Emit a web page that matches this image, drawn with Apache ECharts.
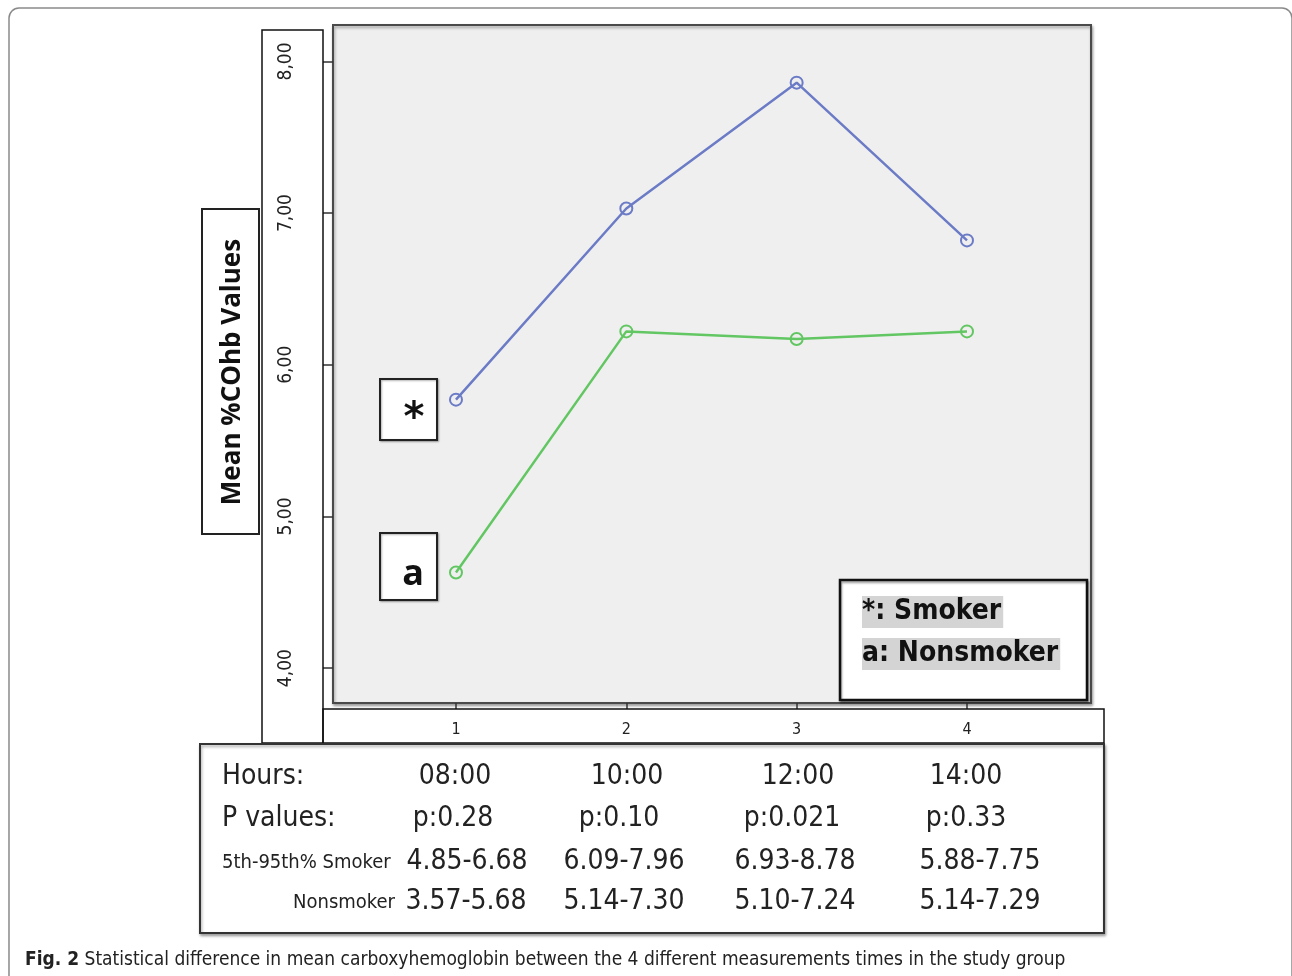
<!DOCTYPE html>
<html><head><meta charset="utf-8">
<script src="https://cdn.jsdelivr.net/npm/echarts@6/dist/echarts.min.js"></script>
<style>html,body{margin:0;padding:0;background:#fff}#c{width:1292px;height:976px}</style>
</head><body><div id="c"></div>
<script>
// ---- data ----
const xValues = [1, 2, 3, 4];
const xTickLabels = ['1', '2', '3', '4'];
const smoker = [5.77, 7.03, 7.86, 6.82];
const nonsmoker = [4.63, 6.22, 6.17, 6.22];
const yTicks = [4, 5, 6, 7, 8];
const yTickLabels = ['4,00', '5,00', '6,00', '7,00', '8,00'];
const rowLabels = ['Hours:', 'P values:', '5th-95th% Smoker', 'Nonsmoker'];
const hours = ['08:00', '10:00', '12:00', '14:00'];
const pValues = ['p:0.28', 'p:0.10', 'p:0.021', 'p:0.33'];
const smokerRange = ['4.85-6.68', '6.09-7.96', '6.93-8.78', '5.88-7.75'];
const nonsmokerRange = ['3.57-5.68', '5.14-7.30', '5.10-7.24', '5.14-7.29'];
const yTitle = 'Mean %COhb Values';
const legendItems = ['*: Smoker', 'a: Nonsmoker'];
const captionBold = 'Fig. 2';
const captionText = ' Statistical difference in mean carboxyhemoglobin between the 4 different measurements times in the study group';

const NARROW = "'Liberation Sans Narrow','DejaVu Sans Condensed','Open Sans',sans-serif";
const chart = echarts.init(document.getElementById('c'), null, {renderer: 'canvas'});

const blue = '#6b7bc6';
const green = '#62c662';

chart.setOption({
  animation: false,
  grid: {left: 333, top: 25, width: 758, height: 678, show: true,
    backgroundColor: '#efefef', borderColor: '#4a4a4a', borderWidth: 2,
    shadowColor: 'rgba(0,0,0,0.35)', shadowBlur: 3, shadowOffsetX: 1, shadowOffsetY: 2},
  xAxis: {type: 'value', min: 0.278, max: 4.728,
    axisLine: {show: false}, splitLine: {show: false},
    axisTick: {show: true, length: 6, customValues: xValues, lineStyle: {color: '#333', width: 1.5}},
    axisLabel: {customValues: xValues, margin: 19, fontSize: 16, color: '#222', fontFamily: NARROW,
      formatter: v => xTickLabels[xValues.indexOf(v)]}},
  yAxis: {type: 'value', min: 3.77, max: 8.24,
    axisLine: {show: false}, splitLine: {show: false},
    axisTick: {show: true, length: 10, customValues: yTicks, lineStyle: {color: '#333', width: 1.5}},
    axisLabel: {show: false}},
  series: [
    {type: 'line', data: xValues.map((x, i) => [x, smoker[i]]), symbol: 'circle', symbolSize: 12,
      lineStyle: {color: blue, width: 2.5},
      itemStyle: {color: 'rgba(0,0,0,0)', borderColor: blue, borderWidth: 2}, z: 5},
    {type: 'line', data: xValues.map((x, i) => [x, nonsmoker[i]]), symbol: 'circle', symbolSize: 12,
      lineStyle: {color: green, width: 2.5},
      itemStyle: {color: 'rgba(0,0,0,0)', borderColor: green, borderWidth: 2}, z: 5}
  ]
});

const g = [];
// outer figure frame
g.push({type: 'rect', shape: {x: 9, y: 8, width: 1283, height: 1000, r: 10},
  style: {fill: 'none', stroke: '#8a8a8a', lineWidth: 1.5}, z: 1});
// y label box
g.push({type: 'rect', shape: {x: 262, y: 30, width: 61, height: 713},
  style: {fill: '#fff', stroke: '#111', lineWidth: 1.5}, z: 1});
// x label box
g.push({type: 'rect', shape: {x: 323, y: 709, width: 781, height: 34},
  style: {fill: 'none', stroke: '#111', lineWidth: 1.5}, z: 1});
// y title box
g.push({type: 'rect', shape: {x: 202, y: 209, width: 57, height: 325},
  style: {fill: '#fff', stroke: '#222', lineWidth: 2}, z: 1});
g.push({type: 'text', x: 233, y: 372, rotation: Math.PI / 2,
  style: {text: yTitle, fill: '#111', font: "bold 26px 'Open Sans','DejaVu Sans',sans-serif", align: 'center', verticalAlign: 'middle'}, z: 2});
// y tick labels via the axis scale
yTicks.forEach((v, i) => {
  const py = chart.convertToPixel({yAxisIndex: 0}, v);
  g.push({type: 'text', x: 286, y: py, rotation: Math.PI / 2,
    style: {text: yTickLabels[i], fill: '#222', font: '19px ' + NARROW, align: 'center', verticalAlign: 'middle'}, z: 2});
});
// marker boxes * and a
g.push({type: 'rect', shape: {x: 380, y: 379, width: 57, height: 61},
  style: {fill: '#fff', stroke: '#222', lineWidth: 2, shadowColor: 'rgba(0,0,0,0.3)', shadowBlur: 2, shadowOffsetX: 1, shadowOffsetY: 1}, z: 10});
g.push({type: 'text', x: 414, y: 420, style: {text: '*', fill: '#111', font: "bold 40px 'DejaVu Sans',sans-serif", align: 'center', verticalAlign: 'middle'}, z: 11});
g.push({type: 'rect', shape: {x: 380, y: 533, width: 57, height: 67},
  style: {fill: '#fff', stroke: '#222', lineWidth: 2, shadowColor: 'rgba(0,0,0,0.3)', shadowBlur: 2, shadowOffsetX: 1, shadowOffsetY: 1}, z: 10});
g.push({type: 'text', x: 413, y: 575, style: {text: 'a', fill: '#111', font: "bold 36px 'Open Sans',sans-serif", align: 'center', verticalAlign: 'middle'}, z: 11});
// legend box
g.push({type: 'rect', shape: {x: 840, y: 580, width: 247, height: 120},
  style: {fill: '#fff', stroke: '#111', lineWidth: 2.5, shadowColor: 'rgba(0,0,0,0.35)', shadowBlur: 2, shadowOffsetX: 1, shadowOffsetY: 2}, z: 10});
legendItems.forEach((t, i) => {
  g.push({type: 'text', x: 862, y: 612 + i * 42,
    style: {text: t, fill: '#111', font: "bold 28px 'DejaVu Sans Condensed','Open Sans',sans-serif", align: 'left', verticalAlign: 'middle',
      backgroundColor: '#d4d4d4', padding: [2, 2, 2, 0]}, z: 11});
});
// table box
g.push({type: 'rect', shape: {x: 200, y: 744, width: 904, height: 189},
  style: {fill: '#fff', stroke: '#333', lineWidth: 2, shadowColor: 'rgba(0,0,0,0.35)', shadowBlur: 3, shadowOffsetX: 1, shadowOffsetY: 2}, z: 3});
const rowY = [777, 819, 862, 902];
const big = '28px ' + NARROW;
const small = '20px ' + NARROW;
g.push({type: 'text', x: 222, y: rowY[0], style: {text: rowLabels[0], fill: '#222', font: big, align: 'left', verticalAlign: 'middle'}, z: 4});
g.push({type: 'text', x: 222, y: rowY[1], style: {text: rowLabels[1], fill: '#222', font: big, align: 'left', verticalAlign: 'middle'}, z: 4});
g.push({type: 'text', x: 222, y: rowY[2] + 1, style: {text: rowLabels[2], fill: '#222', font: small, align: 'left', verticalAlign: 'middle'}, z: 4});
g.push({type: 'text', x: 395, y: rowY[3] + 1, style: {text: rowLabels[3], fill: '#222', font: small, align: 'right', verticalAlign: 'middle'}, z: 4});
const rows = [hours, pValues, smokerRange, nonsmokerRange];
const colX = [
  [455, 627, 798, 966],
  [453, 619, 792, 966],
  [467, 624, 795, 980],
  [466, 624, 795, 980]
];
rows.forEach((arr, r) => arr.forEach((t, c) => {
  g.push({type: 'text', x: colX[r][c], y: rowY[r], style: {text: t, fill: '#222', font: big, align: 'center', verticalAlign: 'middle'}, z: 4});
}));
// caption
g.push({type: 'text', x: 25, y: 960, style: {
  text: '{b|' + captionBold + '}{n|' + captionText + '}', align: 'left', verticalAlign: 'middle',
  rich: {b: {font: "bold 19px " + NARROW, fill: '#222'}, n: {font: "19px " + NARROW, fill: '#222'}}}, z: 4});

chart.setOption({graphic: g});
</script></body></html>
